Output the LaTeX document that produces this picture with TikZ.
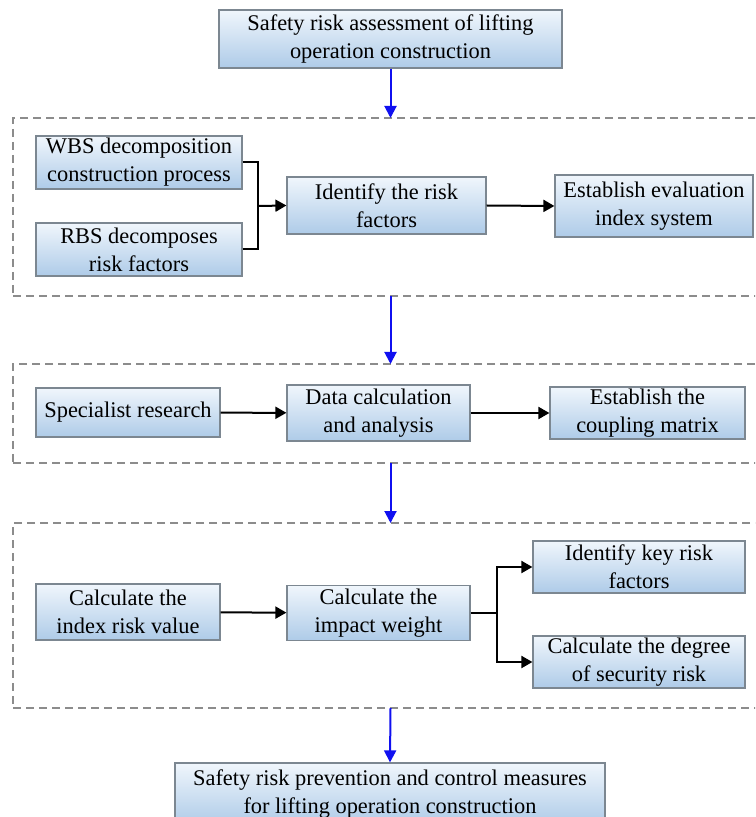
\documentclass[tikz,border=0pt]{standalone}
\usepackage{fontspec}
\setmainfont{Liberation Serif}
\usetikzlibrary{arrows.meta}

\definecolor{boxtop}{HTML}{F0F6FC}
\definecolor{boxbot}{HTML}{AECBE8}
\definecolor{boxline}{HTML}{7C8791}
\definecolor{framegray}{HTML}{8C8C8C}
\definecolor{flowblue}{HTML}{1010F0}

\tikzset{
  stepbox/.style={draw=boxline, line width=0.6pt, top color=boxtop, bottom color=boxbot,
    align=center, inner sep=0pt, font=\fontsize{11.2}{14}\selectfont},
  frame/.style={draw=framegray, dash pattern=on 4pt off 2.5pt, line width=0.6pt,
    inner sep=0pt, outer sep=0pt},
  flow/.style={draw=flowblue, line width=1pt, -{Triangle[length=6pt, width=6pt]}},
  link/.style={line width=1pt, -{Triangle[length=5.5pt, width=6pt]}},
}

\begin{document}
\begin{tikzpicture}[x=0.5pt, y=-0.5pt]
  \clip (0, 0) rectangle (755, 817);

  % dashed stages
  \node[frame, minimum width=378.5pt, minimum height=89pt] at (391.5, 207) (stage1) {};
  \node[frame, minimum width=378.5pt, minimum height=49.5pt] at (391.5, 413.5) (stage2) {};
  \node[frame, minimum width=378.5pt, minimum height=92.5pt] at (391.5, 615.5) (stage3) {};

  % start and end
  \node[stepbox, minimum width=171.5pt, minimum height=29pt] at (390.5, 39) (assess)
    {Safety risk assessment of lifting\\operation construction};
  \node[stepbox, minimum width=215pt, minimum height=31pt] at (390, 794) (measures)
    {Safety risk prevention and control measures\\for lifting operation construction};

  % stage 1
  \node[stepbox, minimum width=103pt, minimum height=26.5pt] at (139, 162.5) (wbs)
    {WBS decomposition\\construction process};
  \node[stepbox, minimum width=103pt, minimum height=26.5pt] at (139, 249.5) (rbs)
    {RBS decomposes\\risk factors};
  \node[stepbox, minimum width=99.5pt, minimum height=28.5pt] at (386.5, 205.5) (identify)
    {Identify the risk\\factors};
  \node[stepbox, minimum width=99pt, minimum height=31pt] at (654, 206) (index)
    {Establish evaluation\\index system};
  \coordinate (join) at (258, 206);

  \draw[line width=1pt] (wbs.east) -| (join);
  \draw[line width=1pt] (rbs.east) -| (join);
  \draw[link] (join) -- (identify.west);
  \draw[link] (identify.east) -- (index.west);

  % stage 2
  \node[stepbox, minimum width=92pt, minimum height=24.5pt] at (128, 412.5) (expert)
    {Specialist research};
  \node[stepbox, minimum width=91.5pt, minimum height=28pt] at (378.5, 413) (datacalc)
    {Data calculation\\and analysis};
  \node[stepbox, minimum width=97.5pt, minimum height=26pt] at (647.5, 413) (coupling)
    {Establish the\\coupling matrix};

  \draw[link] (expert) -- (datacalc);
  \draw[link] (datacalc) -- (coupling);

  % stage 3
  \node[stepbox, minimum width=92pt, minimum height=28pt] at (128, 612) (riskvalue)
    {Calculate the\\index risk value};
  \node[stepbox, minimum width=91.5pt, minimum height=27.5pt] at (378.5, 613) (weight)
    {Calculate the\\impact weight};
  \node[stepbox, minimum width=106pt, minimum height=26pt] at (639, 567) (keyrisk)
    {Identify key risk\\factors};
  \node[stepbox, minimum width=106pt, minimum height=26pt] at (639, 662) (degree)
    {Calculate the degree\\of security risk};
  \coordinate (split) at (497, 613);

  \draw[link] (riskvalue) -- (weight);
  \draw[line width=1pt] (weight.east) -- (split);
  \draw[link] (split) |- (keyrisk.west);
  \draw[link] (split) |- (degree.west);

  % blue flow between stages
  \draw[flow] (assess.south) -- (assess.south |- stage1.north);
  \draw[flow] (assess.south |- stage1.south) -- (assess.south |- stage2.north);
  \draw[flow] (assess.south |- stage2.south) -- (assess.south |- stage3.north);
  \draw[flow] (assess.south |- stage3.south) -- (measures.north);
\end{tikzpicture}
\end{document}
